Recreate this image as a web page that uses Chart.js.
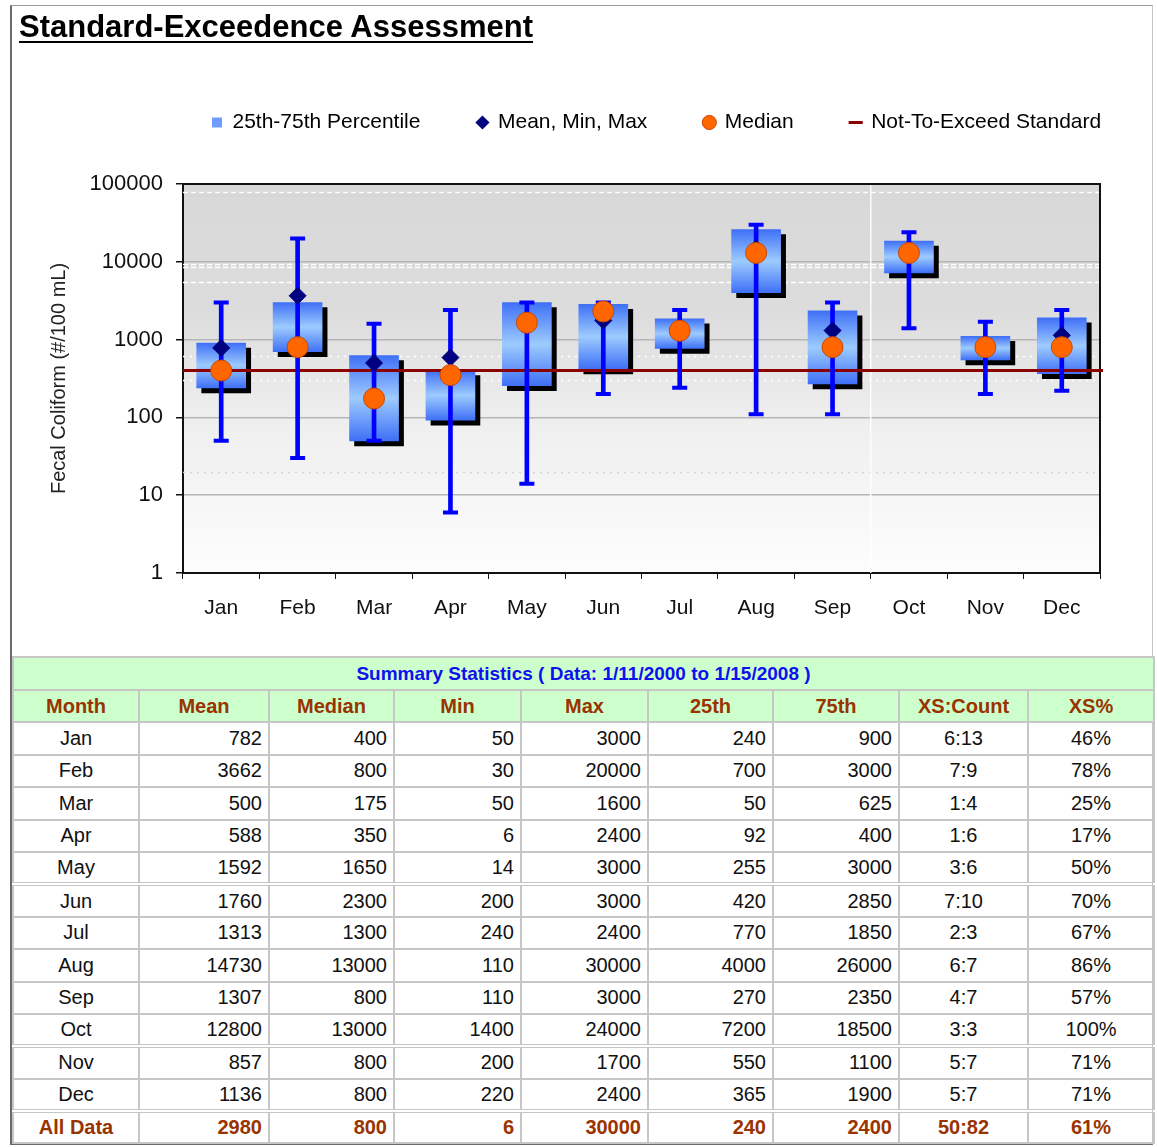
<!DOCTYPE html>
<html>
<head>
<meta charset="utf-8">
<title>Standard-Exceedence Assessment</title>
<script src="https://cdn.jsdelivr.net/npm/chart.js@4.4.0/dist/chart.umd.min.js"></script>
<style>
  body { margin: 0; background: #fff; font-family: "Liberation Sans", Arial, sans-serif; }
  #pagina { position: relative; width: 1157px; height: 1147px; overflow: hidden; }
  #moldura {
    position: absolute; left: 10px; top: 5px; width: 1143px; height: 1140px; box-sizing: border-box;
    border-top: 1px solid #9a9a9a; border-right: 1px solid #c4c4c4;
    border-left: 2px solid #6a6a6a; border-bottom: 3px solid #6a6a6a;
  }
  #titulo {
    position: absolute; left: 19px; top: 9px; margin: 0;
    font-size: 31px; font-weight: bold; color: #000;
    text-decoration: underline; text-decoration-thickness: 2px; text-underline-offset: 4px;
  }
  #grafico { position: absolute; left: 0; top: 0; }
  #resumo {
    position: absolute; left: 12px; top: 656px; width: 1141px;
    border-collapse: collapse; table-layout: fixed; font-size: 20px; color: #111;
  }
  #resumo td, #resumo th { border: 2px solid #c6c6c6; padding: 0 6px; white-space: nowrap; }
  #resumo tr { height: 32.4px; }
  #resumo .faixa td { background: #ccffcc; color: #1010ee; font-weight: bold; font-size: 19px; text-align: center; height: 31px; }
  #resumo .cabecalho th { background: #ccffcc; color: #993300; font-weight: bold; font-size: 20px; }
  #resumo .mes { text-align: center; }
  #resumo .num { text-align: right; }
  #resumo .centro { text-align: center; }
  #resumo .quebra td { border-top: 4px double #c6c6c6; }
  #resumo .total td { color: #993300; font-weight: bold; border-top: 4px double #c6c6c6; }
</style>
</head>
<body>
<div id="pagina">
  <div id="moldura"></div>
  <canvas id="grafico" width="1157" height="640"></canvas>
  <h1 id="titulo">Standard-Exceedence Assessment</h1>
  <table id="resumo">
    <colgroup>
      <col style="width:126px"><col style="width:130px"><col style="width:125px"><col style="width:127px">
      <col style="width:127px"><col style="width:125px"><col style="width:126px"><col style="width:129px"><col style="width:126px">
    </colgroup>
    <tbody id="corpo-resumo"></tbody>
  </table>
</div>

<script>
// Monthly statistics (fecal coliform, #/100 mL)
const months = ['Jan', 'Feb', 'Mar', 'Apr', 'May', 'Jun', 'Jul', 'Aug', 'Sep', 'Oct', 'Nov', 'Dec'];
const meanVals = [782, 3662, 500, 588, 1592, 1760, 1313, 14730, 1307, 12800, 857, 1136];
const medianVals = [400, 800, 175, 350, 1650, 2300, 1300, 13000, 800, 13000, 800, 800];
const minVals = [50, 30, 50, 6, 14, 200, 240, 110, 110, 1400, 200, 220];
const maxVals = [3000, 20000, 1600, 2400, 3000, 3000, 2400, 30000, 3000, 24000, 1700, 2400];
const p25Vals = [240, 700, 50, 92, 255, 420, 770, 4000, 270, 7200, 550, 365];
const p75Vals = [900, 3000, 625, 400, 3000, 2850, 1850, 26000, 2350, 18500, 1100, 1900];
const xsCount = ['6:13', '7:9', '1:4', '1:6', '3:6', '7:10', '2:3', '6:7', '4:7', '3:3', '5:7', '5:7'];
const xsPercent = ['46%', '78%', '25%', '17%', '50%', '70%', '67%', '86%', '57%', '100%', '71%', '71%'];

// "All Data" row of the table
const allDataLabel = 'All Data';
const allDataVals = ['2980', '800', '6', '30000', '240', '2400', '50:82', '61%'];

const tableTitle = 'Summary Statistics ( Data: 1/11/2000 to 1/15/2008 )';
const tableHeaders = ['Month', 'Mean', 'Median', 'Min', 'Max', '25th', '75th', 'XS:Count', 'XS%'];

// Not-to-exceed standard and the faint reference lines in the plot background
const standardValue = 400;
const guideVals = [78000, 9300, 8600, 5500, 620, 300, 20];
const yTickVals = [1, 10, 100, 1000, 10000, 100000];

document.addEventListener('DOMContentLoaded', () => {

  // Table
  function montarTabela() {
    const corpo = document.getElementById('corpo-resumo');
    let html = `<tr class="faixa"><td colspan="9">${tableTitle}</td></tr>`;
    html += '<tr class="cabecalho">' + tableHeaders.map(h => `<th>${h}</th>`).join('') + '</tr>';
    months.forEach((m, i) => {
      const cls = (m === 'Jun' || m === 'Nov') ? ' class="quebra"' : '';
      html += `<tr${cls}><td class="mes">${m}</td>` +
        `<td class="num">${meanVals[i]}</td><td class="num">${medianVals[i]}</td>` +
        `<td class="num">${minVals[i]}</td><td class="num">${maxVals[i]}</td>` +
        `<td class="num">${p25Vals[i]}</td><td class="num">${p75Vals[i]}</td>` +
        `<td class="centro">${xsCount[i]}</td><td class="centro">${xsPercent[i]}</td></tr>`;
    });
    html += `<tr class="total"><td class="mes">${allDataLabel}</td>` +
      allDataVals.map((v, k) => `<td class="${k >= 6 ? 'centro' : 'num'}">${v}</td>`).join('') + '</tr>';
    corpo.innerHTML = html;
  }

  // Blue box gradient: dark at the edges, light in the middle
  function gradienteCaixa(context) {
    const chart = context.chart;
    const y = chart.scales.y;
    if (!chart.chartArea || !y || context.dataIndex === undefined) return '#6f9cff';
    const i = context.dataIndex;
    const top = y.getPixelForValue(p75Vals[i]);
    const bottom = y.getPixelForValue(p25Vals[i]);
    const g = chart.ctx.createLinearGradient(0, top, 0, bottom);
    g.addColorStop(0, '#3f70f6');
    g.addColorStop(0.5, '#9dcbff');
    g.addColorStop(1, '#3f70f6');
    return g;
  }

  // Plot background, reference lines and frame
  const fundoGrafico = {
    id: 'fundoGrafico',
    beforeDraw(chart) {
      const { ctx, chartArea: a } = chart;
      const g = ctx.createLinearGradient(0, a.top, 0, a.bottom);
      g.addColorStop(0, '#d8d8d8');
      g.addColorStop(0.32, '#dcdcdc');
      g.addColorStop(0.62, '#efefef');
      g.addColorStop(1, '#fdfdfd');
      ctx.save();
      ctx.fillStyle = g;
      ctx.fillRect(a.left, a.top, a.right - a.left, a.bottom - a.top);
      ctx.restore();
    },
    beforeDatasetsDraw(chart) {
      const { ctx, chartArea: a, scales } = chart;
      ctx.save();
      guideVals.forEach(v => {
        const py = Math.round(scales.y.getPixelForValue(v)) + 0.5;
        ctx.beginPath();
        ctx.setLineDash(v >= 1000 ? [5, 3] : [2, 5]);
        ctx.strokeStyle = v >= 100 ? '#ffffff' : '#d2d2d2';
        ctx.lineWidth = 1.5;
        ctx.moveTo(a.left, py);
        ctx.lineTo(a.right, py);
        ctx.stroke();
      });
      ctx.setLineDash([]);
      // faint white divider between Sep and Oct
      const xd = (scales.x.getPixelForValue(8) + scales.x.getPixelForValue(9)) / 2;
      ctx.strokeStyle = 'rgba(255,255,255,0.9)';
      ctx.lineWidth = 1.5;
      ctx.beginPath();
      ctx.moveTo(xd, a.top);
      ctx.lineTo(xd, a.bottom);
      ctx.stroke();
      // top and right frame
      ctx.strokeStyle = '#111';
      ctx.lineWidth = 2;
      ctx.beginPath();
      ctx.moveTo(a.left, a.top);
      ctx.lineTo(a.right, a.top);
      ctx.lineTo(a.right, a.bottom);
      ctx.stroke();
      ctx.restore();
    }
  };

  // Drop shadow under the percentile boxes, then the standard line over them
  const sombraCaixas = {
    id: 'sombraCaixas',
    beforeDatasetDraw(chart, args) {
      if (args.index !== 0) return;
      const c = chart.ctx;
      c.save();
      c.shadowColor = '#000';
      c.shadowOffsetX = 5;
      c.shadowOffsetY = 5;
      c.shadowBlur = 0;
    },
    afterDatasetDraw(chart, args) {
      if (args.index !== 0) return;
      const { ctx, chartArea: a, scales } = chart;
      ctx.restore();
      const py = scales.y.getPixelForValue(standardValue);
      ctx.save();
      ctx.strokeStyle = '#8b0000';
      ctx.lineWidth = 3;
      ctx.beginPath();
      ctx.moveTo(a.left, py);
      ctx.lineTo(a.right + 3, py);
      ctx.stroke();
      ctx.restore();
    }
  };

  // Legend: fixed height so the plot starts where it should, and shifted right
  const legendPadding = 57;
  const posicaoLegenda = {
    id: 'posicaoLegenda',
    beforeInit(chart) {
      const fitOriginal = chart.legend.fit;
      chart.legend.fit = function () {
        fitOriginal.call(this);
        this.height = 129;
      };
    },
    afterLayout(chart) {
      chart.legend.left = 212 - legendPadding;
      chart.legend.right = chart.width + 200;
    }
  };

  function criarGrafico() {
    const ctx = document.getElementById('grafico').getContext('2d');

    return new Chart(ctx, {
      type: 'bar',
      data: {
        labels: months,
        datasets: [
          {
            label: '25th-75th Percentile',
            data: months.map((m, i) => [p25Vals[i], p75Vals[i]]),
            backgroundColor: gradienteCaixa,
            borderWidth: 0,
            barThickness: 49,
            grouped: false,
            order: 6
          },
          {
            label: 'Min-Max',
            data: months.map((m, i) => [minVals[i], maxVals[i]]),
            backgroundColor: '#0000ff',
            borderWidth: 0,
            barThickness: 4,
            grouped: false,
            order: 5
          },
          {
            type: 'line',
            label: 'Max',
            data: maxVals,
            showLine: false,
            pointStyle: 'line',
            pointRadius: 7.5,
            pointBorderWidth: 4,
            pointBorderColor: '#0000ff',
            order: 4
          },
          {
            type: 'line',
            label: 'Min',
            data: minVals,
            showLine: false,
            pointStyle: 'line',
            pointRadius: 7.5,
            pointBorderWidth: 4,
            pointBorderColor: '#0000ff',
            order: 4
          },
          {
            type: 'line',
            label: 'Mean',
            data: meanVals,
            showLine: false,
            pointStyle: 'rectRot',
            pointRadius: 8.5,
            pointBackgroundColor: '#000080',
            pointBorderColor: '#000080',
            pointBorderWidth: 1,
            order: 3
          },
          {
            type: 'line',
            label: 'Median',
            data: medianVals,
            showLine: false,
            pointStyle: 'circle',
            pointRadius: 10.5,
            pointBackgroundColor: '#ff6600',
            pointBorderColor: '#c84800',
            pointBorderWidth: 1,
            order: 2
          }
        ]
      },
      options: {
        responsive: false,
        animation: false,
        layout: { padding: { top: 55, left: 47, right: 57, bottom: 0 } },
        plugins: {
          tooltip: { enabled: false },
          legend: {
            position: 'top',
            align: 'start',
            onClick: null,
            labels: {
              usePointStyle: true,
              boxWidth: 10,
              boxHeight: 10,
              padding: legendPadding,
              color: '#222',
              font: { family: '"Liberation Sans", Arial, sans-serif', size: 21 },
              generateLabels: () => [
                { text: '25th-75th Percentile', pointStyle: 'rect', fillStyle: '#6f9cff', strokeStyle: '#6f9cff', lineWidth: 0 },
                { text: 'Mean, Min, Max', pointStyle: 'rectRot', fillStyle: '#000080', strokeStyle: '#000080', lineWidth: 0 },
                { text: 'Median', pointStyle: 'circle', fillStyle: '#ff6600', strokeStyle: '#c84800', lineWidth: 1 },
                { text: 'Not-To-Exceed Standard', pointStyle: 'line', fillStyle: '#8b0000', strokeStyle: '#8b0000', lineWidth: 3 }
              ]
            }
          }
        },
        scales: {
          x: {
            offset: true,
            afterFit: (scale) => { scale.height = 67; },
            grid: { offset: true, drawOnChartArea: false, tickColor: '#111', tickLength: 6 },
            border: { color: '#111', width: 2 },
            ticks: {
              color: '#111',
              padding: 17,
              font: { family: '"Liberation Sans", Arial, sans-serif', size: 21 }
            }
          },
          y: {
            type: 'logarithmic',
            min: 1,
            max: 100000,
            afterBuildTicks: (scale) => { scale.ticks = yTickVals.map(v => ({ value: v })); },
            afterFit: (scale) => { scale.width = 136; },
            grid: {
              color: (c) => (c.tick && (c.tick.value === 1 || c.tick.value === 100000)) ? 'rgba(0,0,0,0)' : '#b6b6b6',
              lineWidth: 1.5,
              tickColor: '#111',
              tickLength: 7
            },
            border: { color: '#111', width: 2 },
            ticks: {
              autoSkip: false,
              color: '#111',
              padding: 13,
              font: { family: '"Liberation Sans", Arial, sans-serif', size: 22 },
              callback: (v) => String(v)
            },
            title: {
              display: true,
              text: 'Fecal Coliform (#/100 mL)',
              color: '#222',
              padding: 0,
              font: { family: '"Liberation Sans", Arial, sans-serif', size: 20 }
            }
          }
        }
      },
      plugins: [fundoGrafico, sombraCaixas, posicaoLegenda]
    });
  }

  montarTabela();
  criarGrafico();
});
</script>
</body>
</html>
